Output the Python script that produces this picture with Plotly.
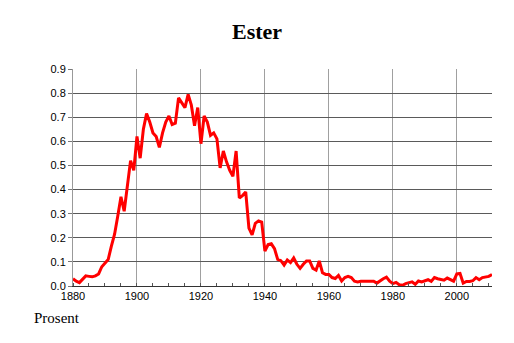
import plotly.graph_objects as go

years = list(range(1880, 2012))
values = [
    0.03, 0.02, 0.014, 0.03, 0.042, 0.04, 0.038, 0.042, 0.05, 0.08,
    0.095, 0.11, 0.165, 0.215, 0.29, 0.37, 0.31, 0.42, 0.52, 0.48,
    0.62, 0.53, 0.65, 0.715, 0.68, 0.635, 0.62, 0.575, 0.635, 0.68,
    0.705, 0.67, 0.675, 0.78, 0.76, 0.74, 0.795, 0.75, 0.665, 0.74,
    0.59, 0.705, 0.68, 0.625, 0.635, 0.61, 0.49, 0.56, 0.515, 0.48,
    0.455, 0.56, 0.365, 0.375, 0.39, 0.24, 0.212, 0.26, 0.27, 0.265,
    0.145, 0.172, 0.175, 0.155, 0.11, 0.105, 0.087, 0.108, 0.097, 0.116,
    0.09, 0.073, 0.09, 0.104, 0.104, 0.073, 0.066, 0.104, 0.055, 0.048,
    0.048, 0.035, 0.031, 0.044, 0.021, 0.035, 0.04, 0.035, 0.02, 0.017,
    0.02, 0.02, 0.02, 0.017, 0.02, 0.012, 0.022, 0.03, 0.037, 0.02,
    0.01, 0.015, 0.005, 0.003, 0.01, 0.012, 0.017, 0.007, 0.021, 0.017,
    0.02, 0.026, 0.019, 0.035, 0.03, 0.028, 0.024, 0.033, 0.028, 0.02,
    0.05, 0.052, 0.012, 0.019, 0.019, 0.022, 0.035, 0.026, 0.035, 0.038,
    0.04, 0.048,
]
x_ticks = [1880, 1900, 1920, 1940, 1960, 1980, 2000]
title_text = "Ester"
y_label = "Prosent"

fig = go.Figure()
fig.add_trace(go.Scatter(
    x=years, y=values, mode="lines",
    line=dict(color="#ff0000", width=3),
    hoverinfo="skip",
))

fig.update_layout(
    width=514, height=343,
    margin=dict(l=73, r=22, t=69, b=57),
    paper_bgcolor="white", plot_bgcolor="white",
    showlegend=False,
    title=dict(text="<b>" + title_text + "</b>", x=0.5, xanchor="center",
               y=1 - 31 / 343, yanchor="middle",
               font=dict(family="Liberation Serif", size=22, color="black")),
    font=dict(family="Liberation Sans", size=11, color="black"),
    xaxis=dict(
        range=[1880, 2011], tickvals=x_ticks,
        showgrid=True, gridcolor="#a0a0a0", gridwidth=1,
        showline=True, linecolor="#333333", linewidth=1,
        ticks="", zeroline=False,
        minor=dict(dtick=5, tick0=1880, ticks="inside", ticklen=3,
                   tickcolor="#555555", showgrid=False),
        tickfont=dict(family="Liberation Sans", size=11, color="black"),
        fixedrange=True,
    ),
    yaxis=dict(
        range=[0, 0.9], dtick=0.1, tickformat=".1f",
        showgrid=True, gridcolor="#5a5a5a", gridwidth=1,
        showline=True, linecolor="#999999", linewidth=1,
        zeroline=False, ticks="outside", ticklen=4, tickcolor="#777777",
        tickfont=dict(family="Liberation Sans", size=11, color="black"),
        fixedrange=True,
    ),
    annotations=[dict(
        text=y_label, xref="paper", yref="paper",
        x=(32 - 73) / 419, y=(286 - 318) / 217,
        xanchor="left", yanchor="middle", showarrow=False,
        font=dict(family="Liberation Serif", size=15, color="black"),
    )],
)

fig.write_html("out.html")
